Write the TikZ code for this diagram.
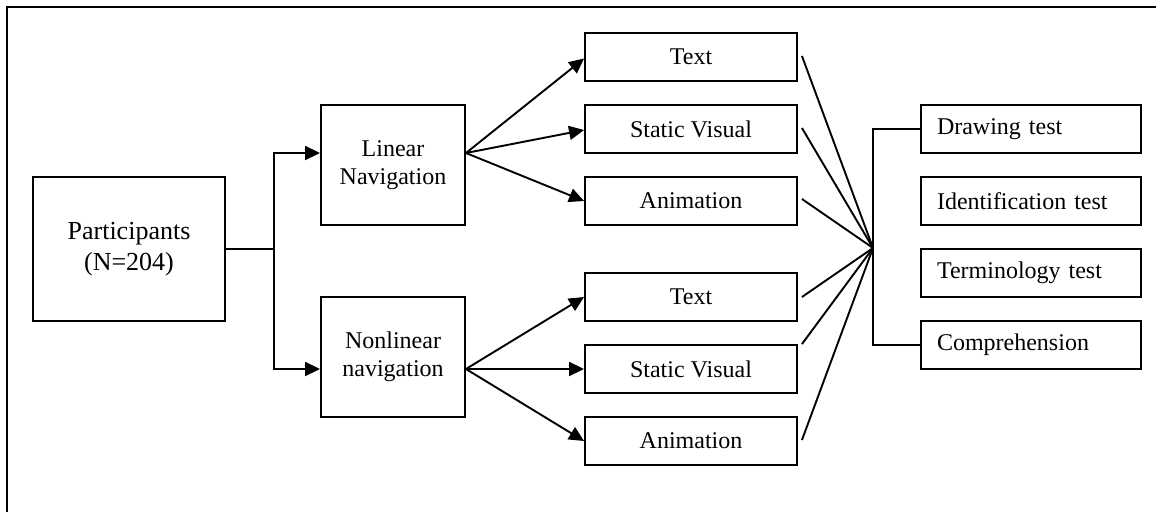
\documentclass[tikz,border=0pt]{standalone}
\usepackage{fontspec}
\setmainfont{Liberation Serif}
\usetikzlibrary{arrows.meta,calc}
\begin{document}
\begin{tikzpicture}[x=1pt,y=-1pt,
  every node/.style={font=\fontsize{24}{28}\selectfont},
  box/.style={draw,line width=1.9pt,inner sep=0pt,align=center},
  mbox/.style={box,minimum width=212pt,minimum height=48pt},
  tbox/.style={draw,line width=1.9pt,inner ysep=0pt,inner xsep=16pt,text width=188pt,align=left,minimum height=48pt},
  conn/.style={line width=1.9pt},
  arr/.style={line width=1.9pt,-{Triangle[length=15pt,width=14pt]}}]
\useasboundingbox (0,0) rectangle (1156,512);
\draw[line width=2pt] (7,512) -- (7,7) -- (1156,7);
\node[box,minimum width=192pt,minimum height=144pt,font=\fontsize{26}{31}\selectfont] (part) at (129,249) {Participants\\(N=204)};
\node[box,minimum width=144pt,minimum height=120pt] (lin) at (393,165) {Linear\\Navigation};
\node[box,minimum width=144pt,minimum height=120pt] (non) at (393,357) {Nonlinear\\navigation};
\node[mbox] (t1) at (691,57) {Text};
\node[mbox] (s1) at (691,129) {Static Visual};
\node[mbox] (a1) at (691,201) {Animation};
\node[mbox] (t2) at (691,297) {Text};
\node[mbox] (s2) at (691,369) {Static Visual};
\node[mbox] (a2) at (691,441) {Animation};
\node[tbox] (d) at (1031,129) {Drawing test};
\node[tbox] (i) at (1031,201) {Identification test};
\node[tbox] (te) at (1031,273) {Terminology test};
\node[tbox] (c) at (1031,345) {Comprehension};
\coordinate (hub) at (873,248);
\coordinate (fork) at ($(part.east)+(48,0)$);
\coordinate (lo) at ($(lin.east)+(0,-12)$);
\coordinate (no) at ($(non.east)+(0,12)$);
\draw[conn] (part.east) -- (fork);
\draw[arr] (fork) |- ($(lin.west)+(0,-12)$);
\draw[arr] (fork) |- ($(non.west)+(0,12)$);
\draw[arr] (lo) -- ($(t1.west)+(0,1.5)$);
\draw[arr] (lo) -- ($(s1.west)+(0,1)$);
\draw[arr] (lo) -- (a1.west);
\draw[arr] (no) -- (t2.west);
\draw[arr] (no) -- (s2.west);
\draw[arr] (no) -- (a2.west);
\draw[conn] ($(t1.east)+(4,-1)$) -- (hub);
\draw[conn] ($(s1.east)+(4,-1)$) -- (hub);
\draw[conn] ($(a1.east)+(4,-2)$) -- (hub);
\draw[conn] ($(t2.east)+(4,0)$) -- (hub);
\draw[conn] ($(s2.north east)+(4,0)$) -- (hub);
\draw[conn] ($(a2.east)+(4,-1)$) -- (hub);
\draw[conn] (d.west) -| (hub) |- (c.west);
\end{tikzpicture}
\end{document}
